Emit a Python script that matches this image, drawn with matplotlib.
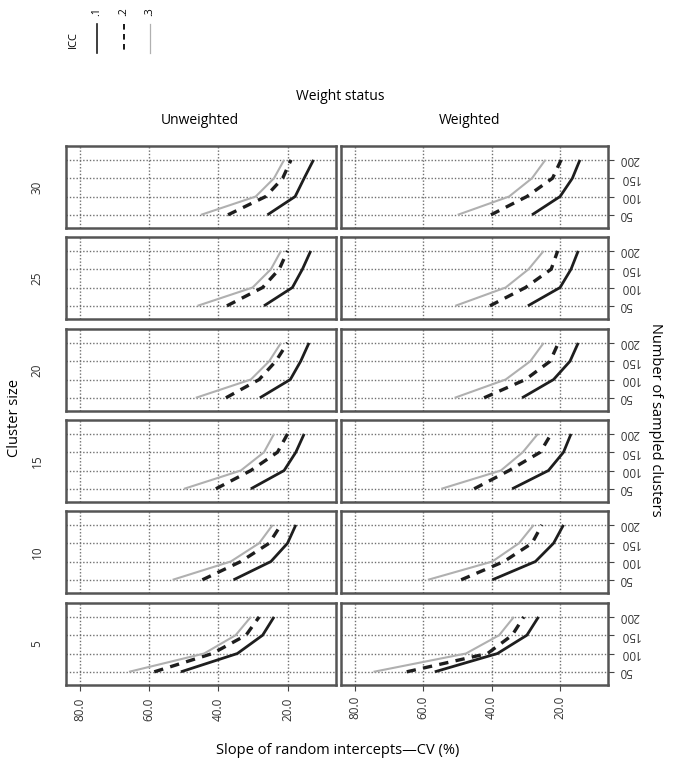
import numpy as np
import matplotlib.pyplot as plt
from matplotlib.lines import Line2D

plt.rcParams['font.family'] = ['Open Sans', 'DejaVu Sans']

# Datos
n_clusters = [50, 100, 150, 200]
cluster_sizes = [30, 25, 20, 15, 10, 5]
weight_status = ['Unweighted', 'Weighted']
icc_labels = ['.1', '.2', '.3']
x_ticks = [80, 60, 40, 20]

# CV (%) por tamano de cluster (filas 30..5) y numero de clusters (50..200)
unw_icc1 = [[25.8, 17.8, 15.2, 12.5], [26.8, 18.6, 15.7, 13.3], [28.0, 19.2, 16.2, 13.8],
            [30.6, 21.0, 17.6, 15.2], [35.6, 24.8, 20.0, 17.6], [50.8, 34.5, 27.2, 23.9]]
unw_icc2 = [[37.2, 26.3, 21.4, 19.0], [37.5, 27.2, 22.4, 20.0], [37.8, 28.2, 23.4, 20.0],
            [40.7, 30.6, 22.9, 20.0], [44.6, 33.5, 25.3, 21.9], [58.5, 41.7, 32.0, 28.2]]
unw_icc3 = [[45.0, 29.2, 23.9, 21.0], [46.0, 30.1, 24.8, 21.9], [46.5, 30.6, 25.3, 21.9],
            [49.9, 33.5, 26.8, 23.9], [53.2, 36.4, 28.2, 24.3], [65.8, 44.1, 35.0, 30.6]]
wt_icc1 = [[28.2, 20.0, 16.4, 14.2], [29.4, 20.0, 16.8, 14.7], [31.1, 21.9, 17.1, 14.7],
           [34.0, 23.4, 19.0, 16.8], [39.8, 27.2, 21.9, 19.0], [56.6, 38.3, 29.7, 26.3]]
wt_icc2 = [[40.2, 29.7, 22.2, 19.7], [40.5, 30.1, 22.6, 20.7], [42.2, 30.1, 22.9, 20.5],
           [45.1, 34.9, 25.8, 22.6], [48.9, 36.4, 28.2, 25.3], [64.8, 41.2, 34.0, 30.6]]
wt_icc3 = [[49.9, 34.9, 28.2, 24.3], [50.6, 35.9, 29.2, 24.8], [50.8, 35.9, 28.7, 24.8],
           [54.7, 37.3, 30.9, 26.5], [58.6, 39.8, 32.0, 27.7], [74.5, 47.5, 37.8, 33.5]]

data = [[unw_icc1, unw_icc2, unw_icc3], [wt_icc1, wt_icc2, wt_icc3]]

# estilos de linea para cada ICC
styles = [dict(color='#1e1e1e', lw=2.0, ls='-'),
          dict(color='#1e1e1e', lw=2.4, ls=(0, (2.8, 2.2))),
          dict(color='#b0b0b0', lw=1.5, ls='-')]

W, H = 680, 765
fig = plt.figure(figsize=(W / 100, H / 100), dpi=100)

col_left = [66, 341]
col_width = [270, 267]
row_tops = [146, 237, 329, 420, 511, 603]
row_h = 82

for c in range(2):
    for r in range(6):
        ax = fig.add_axes([col_left[c] / W, 1 - (row_tops[r] + row_h) / H,
                           col_width[c] / W, row_h / H])
        ax.set_xlim(84, 6)
        ax.set_ylim(14, 238)
        for k in range(3):
            ax.plot(data[c][k][r], n_clusters, **styles[k], solid_capstyle='butt')
        ax.set_xticks(x_ticks)
        ax.set_yticks(n_clusters)
        ax.grid(True, color='#707070', ls=(0, (1, 1.4)), lw=1.0)
        ax.set_axisbelow(True)
        for sp in ax.spines.values():
            sp.set_color('#555555')
            sp.set_linewidth(1.8)
        ax.tick_params(left=False, labelleft=False, top=False, labeltop=False,
                       right=False, labelright=False, bottom=False, labelbottom=False)
        if r == 5:
            ax.tick_params(bottom=True, labelbottom=True, length=4, width=0.8, pad=5,
                           color='#444444', labelsize=8.5, labelcolor='#333333')
            ax.set_xticklabels([f'{v:.1f}' for v in x_ticks], rotation=90)
        if c == 1:
            ax.tick_params(right=True, labelright=True, length=4, width=0.8, pad=4,
                           color='#444444', labelsize=8.5, labelcolor='#333333')
            for lab in ax.get_yticklabels():
                lab.set_rotation(180)
                lab.set_va('center')
        if c == 0:
            fig.text(37 / W, 1 - (row_tops[r] + row_h / 2) / H, str(cluster_sizes[r]),
                     rotation=90, ha='center', va='center', fontsize=8.5, color='#333333')

# textos de cabecera
fig.text(340 / W, 1 - 96 / H, 'Weight status', ha='center', va='center', fontsize=10)
fig.text(200 / W, 1 - 121 / H, weight_status[0], ha='center', va='center', fontsize=10)
fig.text(470 / W, 1 - 121 / H, weight_status[1], ha='center', va='center', fontsize=10)
fig.text(15 / W, 1 - 418 / H, 'Cluster size', rotation=90, ha='center', va='center', fontsize=10.5)
fig.text(655 / W, 1 - 420 / H, 'Number of sampled clusters', rotation=270,
         ha='center', va='center', fontsize=10.5)
fig.text(338 / W, 1 - 750 / H, 'Slope of random intercepts\u2014CV (%)',
         ha='center', va='center', fontsize=10.5)

# leyenda vertical (ICC)
fig.text(73 / W, 1 - 40 / H, 'ICC', rotation=90, ha='center', va='center', fontsize=8)
leg_x = [97, 124, 150]
for k in range(3):
    fig.add_artist(Line2D([leg_x[k] / W, leg_x[k] / W], [1 - 24 / H, 1 - 53 / H],
                          transform=fig.transFigure, **{**styles[k], 'lw': styles[k]['lw'] * 0.6}))
    fig.text(leg_x[k] / W, 1 - 12 / H, icc_labels[k], rotation=90, ha='center',
             va='center', fontsize=7.5)

plt.savefig('out.png', dpi=100)
